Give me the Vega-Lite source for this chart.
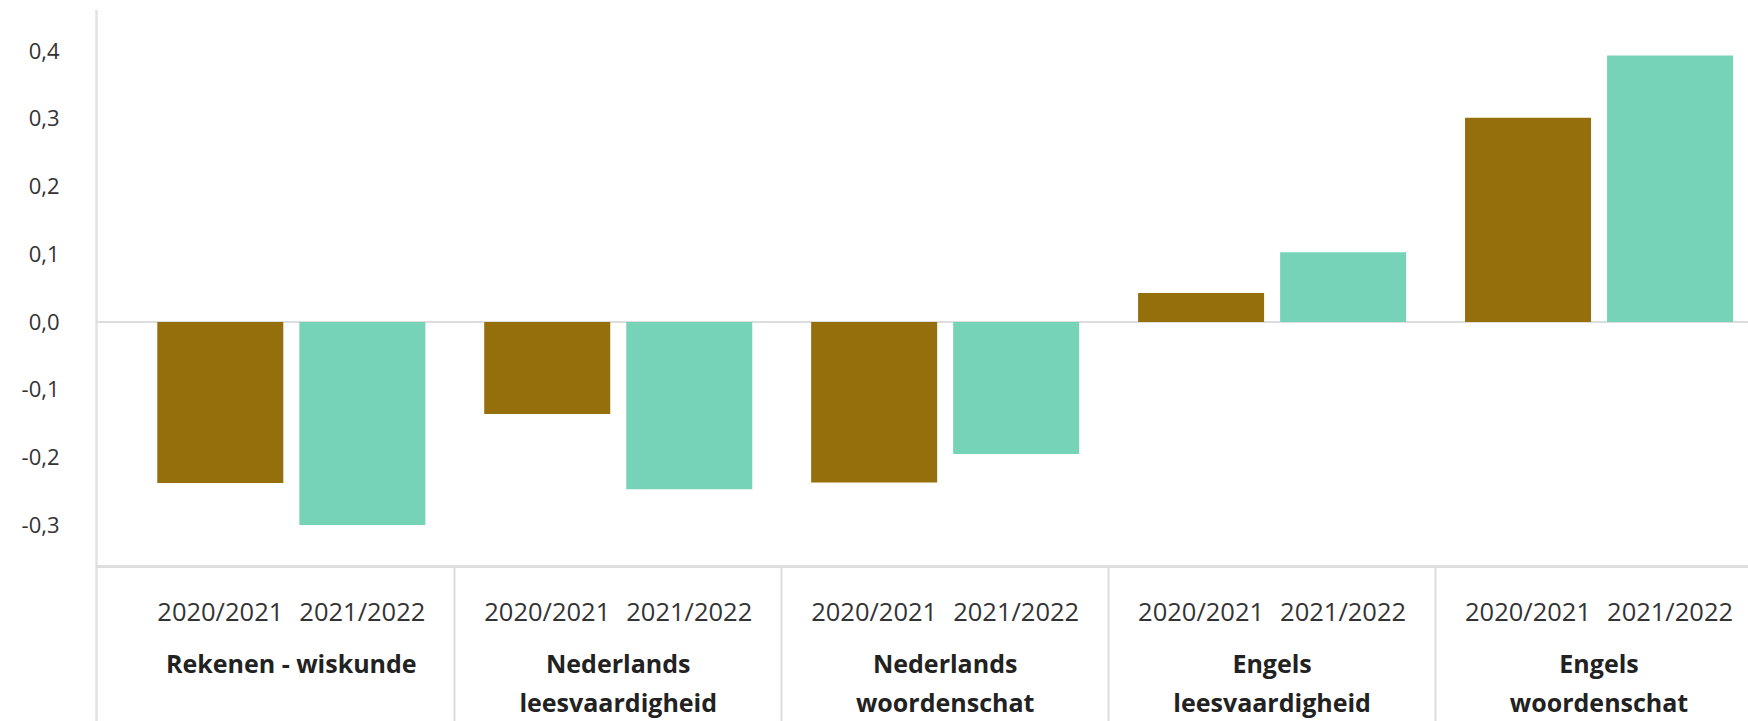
{
  "$schema": "https://vega.github.io/schema/vega-lite/v6.json",
  "autosize": {"type": "none"},
  "padding": {"left": 96, "top": 9.5, "right": 0, "bottom": 0},
  "width": 1652,
  "height": 711.5,
  "background": "#ffffff",
  "config": {"view": {"stroke": null}, "font": "Open Sans"},
  "data": {
    "values": [
      {"vak": "Rekenen - wiskunde", "jaar": "2020/2021", "waarde": -0.238},
      {"vak": "Rekenen - wiskunde", "jaar": "2021/2022", "waarde": -0.300},
      {"vak": "Nederlands leesvaardigheid", "jaar": "2020/2021", "waarde": -0.136},
      {"vak": "Nederlands leesvaardigheid", "jaar": "2021/2022", "waarde": -0.247},
      {"vak": "Nederlands woordenschat", "jaar": "2020/2021", "waarde": -0.237},
      {"vak": "Nederlands woordenschat", "jaar": "2021/2022", "waarde": -0.195},
      {"vak": "Engels leesvaardigheid", "jaar": "2020/2021", "waarde": 0.043},
      {"vak": "Engels leesvaardigheid", "jaar": "2021/2022", "waarde": 0.103},
      {"vak": "Engels woordenschat", "jaar": "2020/2021", "waarde": 0.302},
      {"vak": "Engels woordenschat", "jaar": "2021/2022", "waarde": 0.394}
    ]
  },
  "layer": [
    {
      "mark": {"type": "rule", "color": "#dddddd", "strokeWidth": 2},
      "encoding": {"y": {"datum": 0, "type": "quantitative"}}
    },
    {
      "mark": {"type": "rule", "color": "#dddddd", "strokeWidth": 2},
      "encoding": {"y": {"datum": -0.3616, "type": "quantitative"}}
    },
    {
      "mark": {"type": "bar"},
      "encoding": {
        "x": {
          "field": "vak",
          "type": "nominal",
          "sort": null,
          "scale": {"range": [31.85, 1666.5], "paddingInner": 0, "paddingOuter": 0},
          "axis": {
            "orient": "bottom",
            "title": null,
            "domain": false,
            "labelAngle": 0,
            "bandPosition": 1,
            "tickExtra": false,
            "tickSize": -155,
            "tickColor": "#dddddd",
            "tickWidth": 2,
            "labelPadding": 86,
            "labelFont": "Open Sans",
            "labelFontWeight": "bold",
            "labelFontSize": 25,
            "labelColor": "#222222",
            "labelLineHeight": 39,
            "labelBaseline": "top",
            "labelLimit": 500,
            "labelExpr": "datum.label == 'Rekenen - wiskunde' ? datum.label : split(datum.label, ' ')"
          }
        },
        "xOffset": {
          "field": "jaar",
          "type": "nominal",
          "scale": {"paddingInner": 0.1127, "paddingOuter": 0.2073}
        },
        "y": {
          "field": "waarde",
          "type": "quantitative",
          "scale": {"domain": [-0.5896, 0.4618], "nice": false, "zero": false},
          "axis": {
            "title": null,
            "values": [-0.3, -0.2, -0.1, 0, 0.1, 0.2, 0.3, 0.4],
            "ticks": false,
            "grid": false,
            "domain": true,
            "domainColor": "#e2e2e2",
            "domainWidth": 2.5,
            "labelPadding": 37,
            "labelFont": "Open Sans",
            "labelFontSize": 22,
            "labelColor": "#333333",
            "labelExpr": "replace(replace(format(datum.value, '.1f'), '.', ','), '−', '-')"
          }
        },
        "color": {
          "field": "jaar",
          "type": "nominal",
          "scale": {"domain": ["2020/2021", "2021/2022"], "range": ["#946f0b", "#77d3b8"]},
          "legend": null
        }
      }
    },
    {
      "mark": {"type": "text", "fontSize": 25.5, "color": "#333333", "baseline": "middle", "align": "center", "font": "Open Sans"},
      "encoding": {
        "x": {"field": "vak", "type": "nominal", "sort": null},
        "xOffset": {"field": "jaar", "type": "nominal"},
        "y": {"datum": -0.43, "type": "quantitative"},
        "text": {"field": "jaar"}
      }
    }
  ]
}
